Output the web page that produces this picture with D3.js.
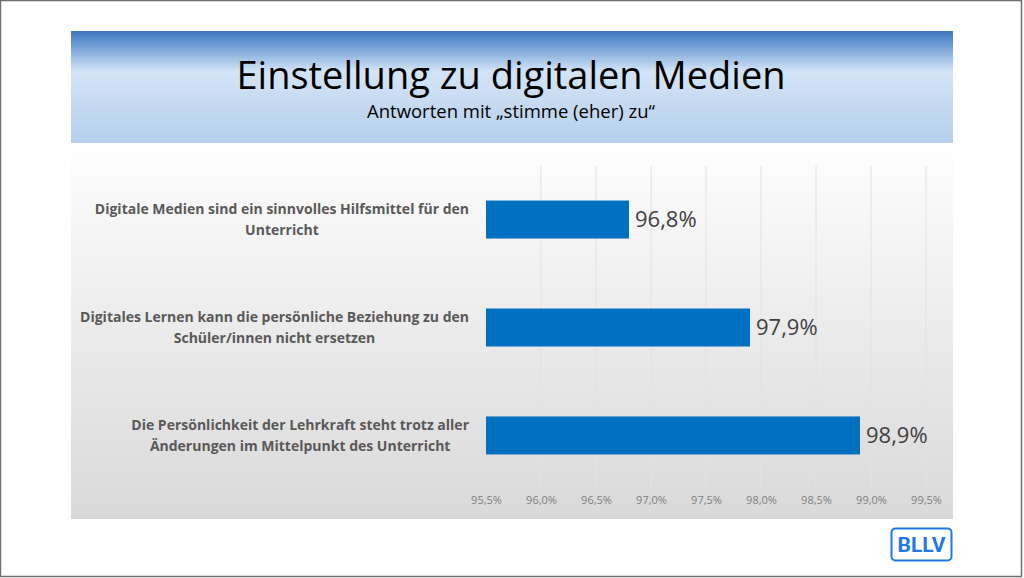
<!DOCTYPE html>
<html>
<head>
<meta charset="utf-8">
<script src="https://cdn.jsdelivr.net/npm/d3@7"></script>
<style>
  html, body { margin: 0; padding: 0; background: #ffffff; }
  svg { display: block; }
</style>
</head>
<body>
<svg id="chart" width="1024" height="578"></svg>
<script>
// ---- data ----
const title = "Einstellung zu digitalen Medien";
const subtitle = "Antworten mit \u201Estimme (eher) zu\u201C";
const categoryLines = [
  ["Digitale Medien sind ein sinnvolles Hilfsmittel für den", "Unterricht"],
  ["Digitales Lernen kann die persönliche Beziehung zu den", "Schüler/innen nicht ersetzen"],
  ["Die Persönlichkeit der Lehrkraft steht trotz aller", "Änderungen im Mittelpunkt des Unterricht"]
];
const categories = categoryLines.map(l => l.join(" "));
const values = [0.968, 0.979, 0.989];
const tickValues = [0.955, 0.960, 0.965, 0.970, 0.975, 0.980, 0.985, 0.990, 0.995];
const logoText = "BLLV";

// ---- setup ----
const svg = d3.select("#chart");
const W = 1024, H = 578;
const de = d3.formatLocale({decimal: ",", thousands: ".", grouping: [3], currency: ["", " €"]});
const fmt = de.format(".1%");

const defs = svg.append("defs");
const hg = defs.append("linearGradient").attr("id", "hdr").attr("x1", 0).attr("y1", 0).attr("x2", 0).attr("y2", 1);
hg.append("stop").attr("offset", "0%").attr("stop-color", "#3f78bd");
hg.append("stop").attr("offset", "8%").attr("stop-color", "#5a8fcc");
hg.append("stop").attr("offset", "36%").attr("stop-color", "#d3e4f7");
hg.append("stop").attr("offset", "60%").attr("stop-color", "#c8dcf2");
hg.append("stop").attr("offset", "100%").attr("stop-color", "#b5cfec");

const cg = defs.append("linearGradient").attr("id", "plotbg").attr("x1", 0).attr("y1", 0).attr("x2", 0).attr("y2", 1);
cg.append("stop").attr("offset", "0%").attr("stop-color", "#fdfdfd");
cg.append("stop").attr("offset", "35%").attr("stop-color", "#f0f0f0");
cg.append("stop").attr("offset", "100%").attr("stop-color", "#d9d9d9");

// outer frame
svg.append("rect").attr("x", 0.5).attr("y", 0.5).attr("width", W - 3).attr("height", H - 2)
  .attr("fill", "#ffffff").attr("stroke", "#6e6e6e").attr("stroke-width", 1.5);

// header box
svg.append("rect").attr("x", 71).attr("y", 31).attr("width", 882).attr("height", 112)
  .attr("fill", "url(#hdr)");
svg.append("text").attr("x", 511).attr("y", 89).attr("text-anchor", "middle")
  .attr("font-family", "Open Sans, sans-serif").attr("font-size", 38)
  .attr("fill", "#000").text(title);
svg.append("text").attr("x", 511).attr("y", 118).attr("text-anchor", "middle")
  .attr("font-family", "Open Sans, sans-serif").attr("font-size", 18.5)
  .attr("fill", "#000").text(subtitle);

// chart area
svg.append("rect").attr("x", 71).attr("y", 151).attr("width", 882).attr("height", 368)
  .attr("fill", "url(#plotbg)");

// scales
const x = d3.scaleLinear().domain([0.955, 0.995]).range([486, 926]);
const y = d3.scaleBand().domain(categories).range([166, 489]).paddingInner(0.648).paddingOuter(0.32);

// gridlines
svg.append("g").selectAll("line").data(tickValues.slice(1)).join("line")
  .attr("x1", d => x(d)).attr("x2", d => x(d))
  .attr("y1", 166).attr("y2", 489)
  .attr("stroke", "#e2e2e2").attr("stroke-width", 1);

// x axis
const xAxis = d3.axisBottom(x).tickValues(tickValues).tickFormat(fmt).tickSize(0).tickPadding(0);
const gx = svg.append("g").attr("transform", "translate(0,496)").call(xAxis);
gx.select(".domain").remove();
gx.selectAll("text").attr("font-family", "Open Sans, sans-serif").attr("font-size", 11)
  .attr("fill", "#7f7f7f").attr("dy", "0.71em");

// bars
svg.append("g").selectAll("rect").data(values).join("rect")
  .attr("x", x(0.955))
  .attr("y", (d, i) => y(categories[i]))
  .attr("width", d => x(d) - x(0.955))
  .attr("height", y.bandwidth())
  .attr("fill", "#0070c0");

// value labels
svg.append("g").selectAll("text").data(values).join("text")
  .attr("x", d => x(d) + 6)
  .attr("y", (d, i) => y(categories[i]) + y.bandwidth() / 2)
  .attr("dy", "0.35em")
  .attr("font-family", "Open Sans, sans-serif").attr("font-size", 22)
  .attr("fill", "#404040")
  .text(d => fmt(d));

// category labels (centered block, right edge near 469)
const labG = svg.append("g");
categoryLines.forEach((lines, i) => {
  const cy = y(categories[i]) + y.bandwidth() / 2;
  const t = labG.append("text")
    .attr("font-family", "Open Sans, sans-serif").attr("font-size", 14)
    .attr("font-weight", "bold").attr("fill", "#595959").attr("text-anchor", "middle");
  const lh = 21.5;
  lines.forEach((ln, j) => {
    t.append("tspan").attr("y", cy + (j - (lines.length - 1) / 2) * lh).attr("dy", "0.35em").text(ln);
  });
  let maxW = 0;
  t.selectAll("tspan").each(function () { maxW = Math.max(maxW, this.getComputedTextLength()); });
  t.selectAll("tspan").attr("x", 469 - maxW / 2);
});

// logo
svg.append("rect").attr("x", 891.5).attr("y", 528.5).attr("width", 60).attr("height", 32)
  .attr("rx", 4).attr("fill", "#fff").attr("stroke", "#1e78e6").attr("stroke-width", 2);
svg.append("text").attr("x", 921.5).attr("y", 552).attr("text-anchor", "middle")
  .attr("font-family", "Roboto, sans-serif").attr("font-weight", "bold").attr("font-size", 21)
  .attr("fill", "#1e78e6").text(logoText);
</script>
</body>
</html>
